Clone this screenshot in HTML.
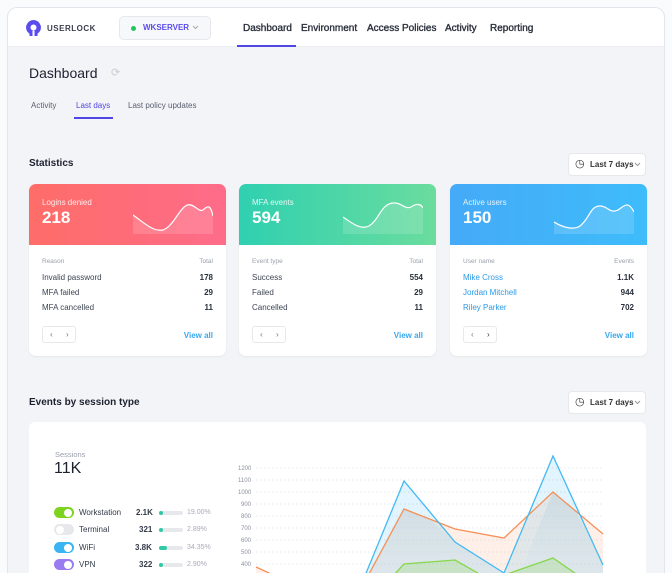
<!DOCTYPE html>
<html><head><meta charset="utf-8"><style>
*{box-sizing:border-box;margin:0;padding:0}
html,body{width:672px;height:573px;overflow:hidden;background:#fafbfc;font-family:"Liberation Sans",sans-serif}
#root{position:relative;width:672px;height:573px;overflow:hidden}
.frame{position:absolute;left:7px;top:7px;width:658px;height:566px;border:1px solid #e2e5ec;border-bottom:none;border-radius:10px 10px 0 0;background:#f3f4f7;overflow:hidden}
.hdr{position:absolute;left:0;top:0;width:100%;height:39px;background:#fff;border-bottom:1px solid #eceef2}
.abs{position:absolute;white-space:nowrap}
.nav{font-size:10px;color:#2a303c;top:15px;-webkit-text-stroke:0.35px #2a303c}
.card{position:absolute;top:184px;width:197px;height:172px;background:#fff;border-radius:7px;box-shadow:0 1px 2px rgba(0,0,0,.06);overflow:hidden}
.ch{height:61px;position:relative;color:#fff}
.ch .t{position:absolute;left:13px;top:14px;font-size:8px;opacity:.85}
.ch .n{position:absolute;left:13px;top:24px;font-size:17px;font-weight:bold}
.row{position:absolute;left:13px;right:13px;font-size:8px;color:#3d4452}
.row b{position:absolute;right:0;color:#2a303c}
.lh{color:#9aa0ab;font-size:6.5px}
.pg{position:absolute;left:13px;top:142px;width:34px;height:17px;border:1px solid #e6e8ec;border-radius:3px;font-size:8px;color:#777}
.pg span{position:absolute;top:3px}
.va{position:absolute;right:13px;top:147px;font-size:8px;font-weight:bold;color:#38a8f0}
.btn{position:absolute;background:#fff;border:1px solid #e6e8ec;border-radius:4px;font-size:8px;font-weight:bold;color:#333;padding:6px 0 0 21px}
.sw{position:absolute;left:25px;width:20px;height:11px;border-radius:6px}
.sw i{position:absolute;top:1.5px;width:8px;height:8px;border-radius:50%;background:#fff}
.lg{position:absolute;font-size:8px;color:#333a48}
.bar{position:absolute;left:130px;width:24px;height:4px;background:#e6e8ec;border-radius:2px}
.bar i{position:absolute;left:0;top:0;height:4px;width:4px;border-radius:2px;background:#2ec9a6}
</style></head><body><div id="root">
<div class="frame">
<div class="hdr">
 <svg class="abs" style="left:17px;top:11px" width="17" height="18" viewBox="0 0 17 18"><path d="M8.5 1a7.5 7.5 0 0 0-4 13.8V17h3v-5a1.5 1.5 0 0 1 2 0v5h3v-2.2A7.5 7.5 0 0 0 8.5 1z" fill="#5b4cf0"/><circle cx="8.5" cy="8.5" r="3" fill="#fff"/></svg>
 <div class="abs" style="left:39px;top:16px;font-size:8px;font-weight:bold;color:#3a3f4c;letter-spacing:.5px">USERLOCK</div>
 <div class="abs" style="left:111px;top:8px;width:92px;height:24px;background:#f7f8fa;border:1px solid #e6e8ec;border-radius:5px"></div>
 <div class="abs" style="left:123px;top:18px;width:5px;height:5px;border-radius:50%;background:#22c55e"></div>
 <div class="abs" style="left:135px;top:15px;font-size:8px;font-weight:bold;color:#5b4cf0">WKSERVER</div>
 <svg class="abs" style="left:184px;top:17px" width="7" height="5"><path d="M1 1 L3.5 3.5 L6 1" stroke="#aaa" fill="none"/></svg>
 <div class="abs nav" style="left:235px">Dashboard</div>
 <div class="abs" style="left:229px;top:37px;width:59px;height:2px;background:#4f46e5"></div>
 <div class="abs nav" style="left:293px">Environment</div>
 <div class="abs nav" style="left:359px">Access Policies</div>
 <div class="abs nav" style="left:437px">Activity</div>
 <div class="abs nav" style="left:482px">Reporting</div>
</div>
</div>
<div class="abs" style="left:29px;top:65px;font-size:14px;color:#1c2130">Dashboard</div>
<div class="abs" style="left:111px;top:66px;font-size:11px;color:#ccc">&#10227;</div>
<div class="abs" style="left:31px;top:101px;font-size:8px;color:#5a6070">Activity</div>
<div class="abs" style="left:76px;top:101px;font-size:8px;color:#4f46e5">Last days</div>
<div class="abs" style="left:74px;top:117px;width:39px;height:2px;background:#4f46e5"></div>
<div class="abs" style="left:128px;top:101px;font-size:8px;color:#5a6070">Last policy updates</div>
<div class="abs" style="left:29px;top:158px;font-size:10px;font-weight:bold;color:#1c2130">Statistics</div>
<div class="btn" style="left:568px;top:153px;width:78px;height:23px">Last 7 days</div>
<svg class="abs" style="left:634px;top:162px" width="7" height="5"><path d="M1 1 L3.5 3.5 L6 1" stroke="#999" fill="none"/></svg>
<div class="abs" style="left:575px;top:157px;font-size:11px;color:#333">&#9719;</div>

<div class="card" style="left:29px">
 <div class="ch" style="background:linear-gradient(90deg,#fe6d68,#fe6c8a)"><div class="t">Logins denied</div><div class="n">218</div>
 <svg class="abs" style="left:104px;top:16px" width="80" height="34"><path d="M0 15 C10 22,20 32,30 30 C42 26,48 2,58 5 C64 7,66 12,70 10 C76 4,78 7,80 16 V34 H0Z" fill="rgba(255,255,255,.15)"/><path d="M0 15 C10 22,20 32,30 30 C42 26,48 2,58 5 C64 7,66 12,70 10 C76 4,78 7,80 16" stroke="#fff" stroke-width="1.2" fill="none"/></svg></div>
 <div class="row lh" style="top:74px">Reason<b style="color:#9aa0ab;font-weight:normal">Total</b></div>
 <div class="row" style="top:89px">Invalid password<b>178</b></div>
 <div class="row" style="top:104px">MFA failed<b>29</b></div>
 <div class="row" style="top:119px">MFA cancelled<b>11</b></div>
 <div class="pg"><span style="left:7px">&#8249;</span><span style="left:23px">&#8250;</span></div><div class="va">View all</div>
</div>
<div class="card" style="left:239px">
 <div class="ch" style="background:linear-gradient(90deg,#2fd0b0,#6bdc9e)"><div class="t">MFA events</div><div class="n">594</div>
 <svg class="abs" style="left:104px;top:16px" width="80" height="34"><path d="M0 17 C10 24,18 30,26 26 C36 20,38 4,50 3 C58 2,62 10,68 7 C74 3,78 4,80 8 V34 H0Z" fill="rgba(255,255,255,.15)"/><path d="M0 17 C10 24,18 30,26 26 C36 20,38 4,50 3 C58 2,62 10,68 7 C74 3,78 4,80 8" stroke="#fff" stroke-width="1.2" fill="none"/></svg></div>
 <div class="row lh" style="top:74px">Event type<b style="color:#9aa0ab;font-weight:normal">Total</b></div>
 <div class="row" style="top:89px">Success<b>554</b></div>
 <div class="row" style="top:104px">Failed<b>29</b></div>
 <div class="row" style="top:119px">Cancelled<b>11</b></div>
 <div class="pg"><span style="left:7px">&#8249;</span><span style="left:23px">&#8250;</span></div><div class="va">View all</div>
</div>
<div class="card" style="left:450px">
 <div class="ch" style="background:linear-gradient(90deg,#45aaf7,#3ebcfa)"><div class="t">Active users</div><div class="n">150</div>
 <svg class="abs" style="left:104px;top:16px" width="80" height="34"><path d="M0 22 C10 28,20 30,26 26 C36 18,36 6,46 6 C54 6,56 14,64 10 C70 6,74 0,80 12 V34 H0Z" fill="rgba(255,255,255,.15)"/><path d="M0 22 C10 28,20 30,26 26 C36 18,36 6,46 6 C54 6,56 14,64 10 C70 6,74 0,80 12" stroke="#fff" stroke-width="1.2" fill="none"/></svg></div>
 <div class="row lh" style="top:74px">User name<b style="color:#9aa0ab;font-weight:normal">Events</b></div>
 <div class="row" style="top:89px;color:#2b9ae8">Mike Cross<b>1.1K</b></div>
 <div class="row" style="top:104px;color:#2b9ae8">Jordan Mitchell<b>944</b></div>
 <div class="row" style="top:119px;color:#2b9ae8">Riley Parker<b>702</b></div>
 <div class="pg"><span style="left:7px">&#8249;</span><span style="left:23px;color:#333">&#8250;</span></div><div class="va">View all</div>
</div>

<div class="abs" style="left:29px;top:397px;font-size:10px;font-weight:bold;color:#1c2130">Events by session type</div>
<div class="btn" style="left:568px;top:391px;width:78px;height:23px">Last 7 days</div>
<svg class="abs" style="left:634px;top:400px" width="7" height="5"><path d="M1 1 L3.5 3.5 L6 1" stroke="#999" fill="none"/></svg>
<div class="abs" style="left:575px;top:395px;font-size:11px;color:#333">&#9719;</div>

<div class="abs" style="left:29px;top:422px;width:617px;height:151px;background:#fff;border-radius:6px 6px 0 0">
 <div class="abs" style="left:26px;top:28px;font-size:7.5px;color:#9aa0ab">Sessions</div>
 <div class="abs" style="left:25px;top:38px;font-size:16px;color:#1c2130">11K</div>
 <div class="sw" style="top:85px;background:#7ed321"><i style="left:10px"></i></div>
 <div class="sw" style="top:102px;background:#e6e8ec"><i style="left:2px"></i></div>
 <div class="sw" style="top:120px;background:#3ab4f2"><i style="left:10px"></i></div>
 <div class="sw" style="top:137px;background:#9b7bf0"><i style="left:10px"></i></div>
 <div class="lg" style="left:50px;top:86px">Workstation</div><div class="lg" style="left:50px;top:103px">Terminal</div><div class="lg" style="left:50px;top:121px">WiFi</div><div class="lg" style="left:50px;top:138px">VPN</div>
 <div class="lg" style="left:107px;top:86px;font-weight:bold">2.1K</div><div class="lg" style="left:110px;top:103px;font-weight:bold">321</div><div class="lg" style="left:106px;top:121px;font-weight:bold">3.8K</div><div class="lg" style="left:110px;top:138px;font-weight:bold">322</div>
 <div class="bar" style="top:89px"><i></i></div><div class="bar" style="top:106px"><i></i></div><div class="bar" style="top:124px"><i style="width:8px"></i></div><div class="bar" style="top:141px"><i></i></div>
 <div class="lg" style="left:158px;top:87px;color:#aab;font-size:7px">19.00%</div><div class="lg" style="left:158px;top:104px;color:#aab;font-size:7px">2.89%</div><div class="lg" style="left:158px;top:122px;color:#aab;font-size:7px">34.35%</div><div class="lg" style="left:158px;top:139px;color:#aab;font-size:7px">2.90%</div>
</div>
<svg class="abs" style="left:0;top:0" width="672" height="573">
 <defs><linearGradient id="g" x1="0" y1="0" x2="0" y2="1"><stop offset="0" stop-color="#d8d8d8" stop-opacity=".6"/><stop offset="1" stop-color="#eee" stop-opacity=".3"/></linearGradient></defs>
 <g stroke="#dde0e6" stroke-dasharray="1.5 2.5" stroke-width="0.8">
  <line x1="256" x2="603" y1="468" y2="468"/><line x1="256" x2="603" y1="480" y2="480"/><line x1="256" x2="603" y1="492" y2="492"/><line x1="256" x2="603" y1="504" y2="504"/><line x1="256" x2="603" y1="516" y2="516"/><line x1="256" x2="603" y1="528" y2="528"/><line x1="256" x2="603" y1="540" y2="540"/><line x1="256" x2="603" y1="552" y2="552"/><line x1="256" x2="603" y1="564" y2="564"/>
 </g>
 <g font-size="6" fill="#8a909c" font-family="Liberation Sans">
  <text x="238" y="470">1200</text><text x="238" y="482">1100</text><text x="238" y="494">1000</text><text x="241" y="506">900</text><text x="241" y="518">800</text><text x="241" y="530">700</text><text x="241" y="542">600</text><text x="241" y="554">500</text><text x="241" y="566">400</text>
 </g>
 <path d="M256 567 L306 590 L355 600 L404 509 L455 529 L504 538 L553 492 L603 534 L603 573 L256 573Z" fill="rgba(250,140,80,.13)"/>
 <path d="M370 573 L404 509 L430 520 L455 542 L504 573 L520 573 L553 492 L575 510 L603 565 L603 573Z" fill="url(#g)"/>
 <path d="M355 600 L404 481 L455 542 L504 573 L553 456 L603 565 L603 573 L355 573Z" fill="rgba(60,180,240,.15)"/>
 <path d="M380 590 L404 564 L455 560 L490 580 L553 558 L585 580 L585 573 L380 573Z" fill="rgba(120,210,60,.2)"/>
 <path d="M256 567 L306 590 L355 600 L404 509 L455 529 L504 538 L553 492 L603 534" stroke="#f59058" stroke-width="1.3" fill="none"/>
 <path d="M355 600 L404 481 L455 542 L504 573 L553 456 L603 565" stroke="#44b9f2" stroke-width="1.3" fill="none"/>
 <path d="M380 590 L404 564 L455 560 L490 580 L553 558 L585 580" stroke="#86d84a" stroke-width="1.3" fill="none"/>
</svg>
</div></body></html>
